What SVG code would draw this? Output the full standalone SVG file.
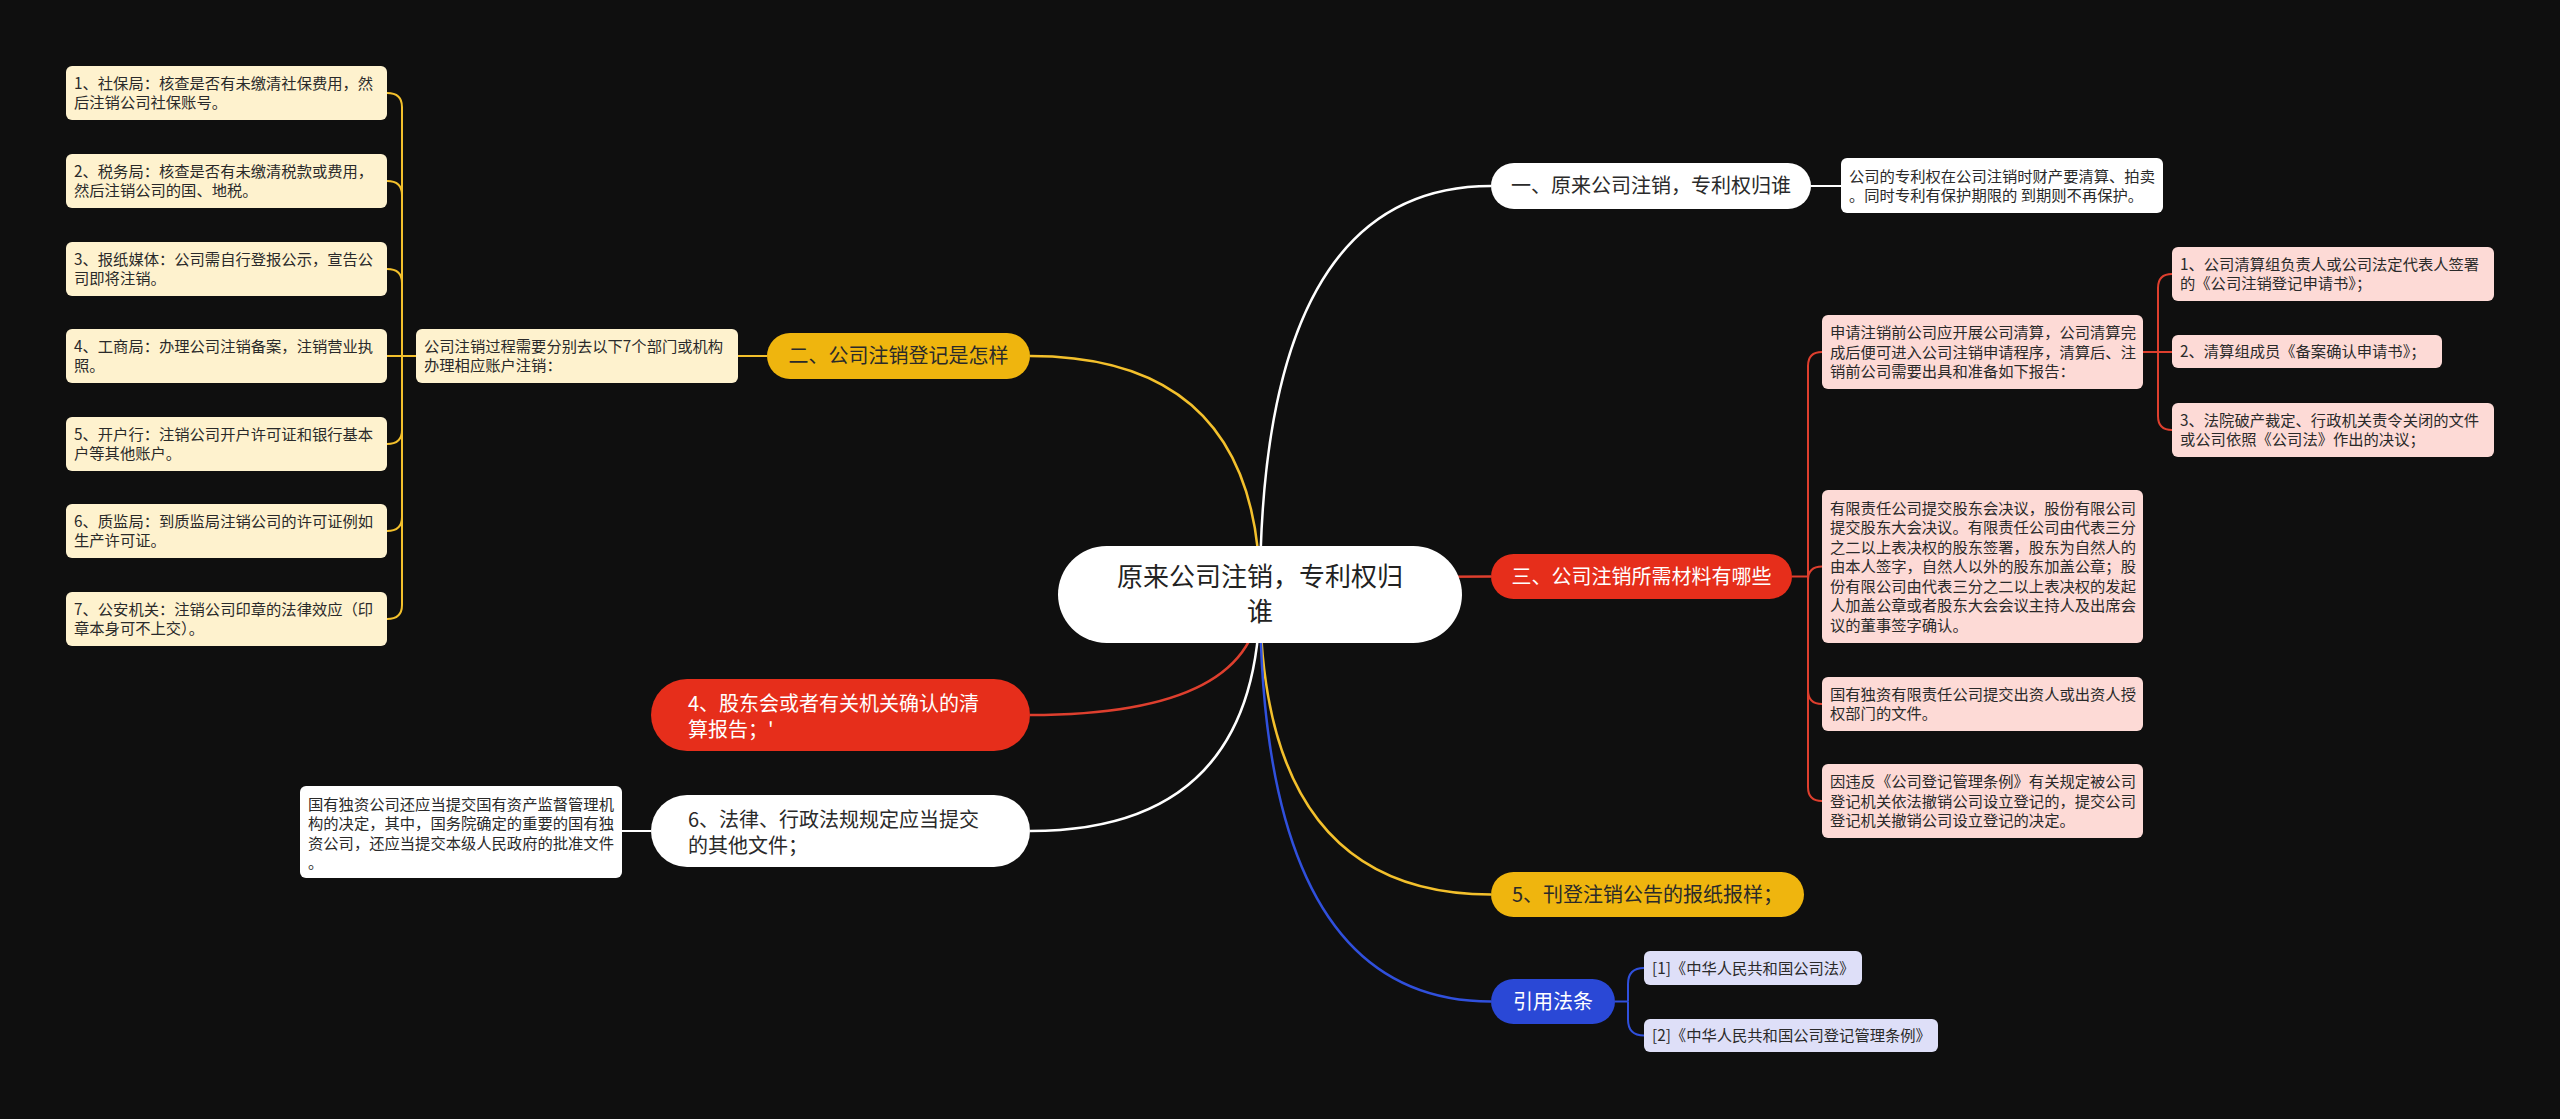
<svg xmlns="http://www.w3.org/2000/svg" width="2560" height="1119" viewBox="0 0 2560 1119">
<style>
text{font-family:"Noto Sans CJK SC","Noto Sans",sans-serif;}
.t{font-size:15.3px;fill:#2a2a2a;}
.l1{font-size:20px;}
.root{font-size:26px;fill:#222;}
.cream{fill:#FEF2CE;}
.pink{fill:#FDDAD6;}
.lav{fill:#DEDFF8;}
.wbox{fill:#FFFFFF;}
.cw{fill:none;stroke:#FFFFFF;stroke-width:2.5;}
.cy{fill:none;stroke:#F3C02C;stroke-width:2.5;}
.cr{fill:none;stroke:#DE3F2E;stroke-width:2.5;}
.cb{fill:none;stroke:#3050DC;stroke-width:2.5;}
.sy{fill:none;stroke:#F3C02C;stroke-width:2;}
.sr{fill:none;stroke:#DE3F2E;stroke-width:2;}
.sb{fill:none;stroke:#3050DC;stroke-width:2;}
.sw{fill:none;stroke:#FFFFFF;stroke-width:2;}
</style>
<rect x="0" y="0" width="2560" height="1119" fill="#0F0F0F"/>

<g id="connectors">
  <path class="cw" d="M1260 594 Q1260 186 1491 186"/>
  <path class="cy" d="M1260 594 Q1260 356 1030 356"/>
  <path class="cr" d="M1260 594 Q1260 576.5 1491 576.5"/>
  <path class="cr" d="M1260 594 Q1260 715 1030 715"/>
  <path class="cw" d="M1260 594 Q1260 831 1030 831"/>
  <path class="cy" d="M1260 594 Q1260 894.5 1491 894.5"/>
  <path class="cb" d="M1260 594 Q1260 1001.5 1491 1001.5"/>
  <!-- 二 branch -->
  <path class="sy" d="M767 356 H738"/>
  <path class="sy" d="M416 356 H387"/>
  <path class="sy" d="M402 356 V107 Q402 93 387 93"/>
  <path class="sy" d="M402 195 Q402 181 387 181"/>
  <path class="sy" d="M402 283 Q402 269 387 269"/>
  <path class="sy" d="M402 356 V605 Q402 619 387 619"/>
  <path class="sy" d="M402 430 Q402 444 387 444"/>
  <path class="sy" d="M402 517 Q402 531 387 531"/>
  <!-- 一 branch -->
  <path class="sw" d="M1811 186 H1841"/>
  <!-- 三 branch -->
  <path class="sr" d="M1792 576.5 H1808"/>
  <path class="sr" d="M1808 576.5 V366 Q1808 352 1822 352"/>
  <path class="sr" d="M1808 580 Q1808 566.5 1822 566.5"/>
  <path class="sr" d="M1808 576.5 V787 Q1808 801 1822 801"/>
  <path class="sr" d="M1808 690 Q1808 704 1822 704"/>
  <path class="sr" d="M2143 352 H2172"/>
  <path class="sr" d="M2158 352 V288 Q2158 274 2172 274"/>
  <path class="sr" d="M2158 352 V416 Q2158 430 2172 430"/>
  <!-- 6 branch -->
  <path class="sw" d="M651 831 H622"/>
  <!-- 引用法条 branch -->
  <path class="sb" d="M1615 1001.5 H1628"/>
  <path class="sb" d="M1628 1001.5 V984 Q1628 968 1644 968"/>
  <path class="sb" d="M1628 1001.5 V1019.5 Q1628 1035.5 1644 1035.5"/>
</g>

<g id="root">
  <rect x="1058" y="546" width="404" height="97" rx="48.5" fill="#FFFFFF"/>
  <text class="root" x="1260" y="586.4" text-anchor="middle">原来公司注销，专利权归</text>
  <text class="root" x="1260" y="621.4" text-anchor="middle">谁</text>
</g>

<g id="n-yi">
  <rect x="1491" y="163" width="320" height="46" rx="23" fill="#FFFFFF"/>
  <text class="l1" x="1651" y="193.2" text-anchor="middle" fill="#2a2a2a">一、原来公司注销，专利权归谁</text>
</g>
<g id="n-yi-1">
  <rect class="wbox" x="1841" y="158" width="322" height="55" rx="6"/>
  <text class="t" x="1849" y="181.5">公司的专利权在公司注销时财产要清算、拍卖</text>
  <text class="t" x="1849" y="201">。同时专利有保护期限的 到期则不再保护。</text>
</g>

<g id="n-er">
  <rect x="767" y="333" width="263" height="46" rx="23" fill="#EFB50E"/>
  <text class="l1" x="898.5" y="363.2" text-anchor="middle" fill="#2a2a2a">二、公司注销登记是怎样</text>
</g>
<g id="n-er-1">
  <rect class="cream" x="416" y="329" width="322" height="54" rx="6"/>
  <text class="t" x="424" y="351.75">公司注销过程需要分别去以下7个部门或机构</text>
  <text class="t" x="424" y="371.25">办理相应账户注销：</text>
</g>
<g id="n-er-1-1">
  <rect class="cream" x="66" y="66" width="321" height="54" rx="6"/>
  <text class="t" x="74" y="88.75">1、社保局：核查是否有未缴清社保费用，然</text>
  <text class="t" x="74" y="108.25">后注销公司社保账号。</text>
</g>
<g id="n-er-1-2">
  <rect class="cream" x="66" y="154" width="321" height="54" rx="6"/>
  <text class="t" x="74" y="176.75">2、税务局：核查是否有未缴清税款或费用，</text>
  <text class="t" x="74" y="196.25">然后注销公司的国、地税。</text>
</g>
<g id="n-er-1-3">
  <rect class="cream" x="66" y="242" width="321" height="54" rx="6"/>
  <text class="t" x="74" y="264.75">3、报纸媒体：公司需自行登报公示，宣告公</text>
  <text class="t" x="74" y="284.25">司即将注销。</text>
</g>
<g id="n-er-1-4">
  <rect class="cream" x="66" y="329" width="321" height="54" rx="6"/>
  <text class="t" x="74" y="351.75">4、工商局：办理公司注销备案，注销营业执</text>
  <text class="t" x="74" y="371.25">照。</text>
</g>
<g id="n-er-1-5">
  <rect class="cream" x="66" y="417" width="321" height="54" rx="6"/>
  <text class="t" x="74" y="439.75">5、开户行：注销公司开户许可证和银行基本</text>
  <text class="t" x="74" y="459.25">户等其他账户。</text>
</g>
<g id="n-er-1-6">
  <rect class="cream" x="66" y="504" width="321" height="54" rx="6"/>
  <text class="t" x="74" y="526.75">6、质监局：到质监局注销公司的许可证例如</text>
  <text class="t" x="74" y="546.25">生产许可证。</text>
</g>
<g id="n-er-1-7">
  <rect class="cream" x="66" y="592" width="321" height="54" rx="6"/>
  <text class="t" x="74" y="614.75">7、公安机关：注销公司印章的法律效应（印</text>
  <text class="t" x="74" y="634.25">章本身可不上交）。</text>
</g>

<g id="n-san">
  <rect x="1491" y="554" width="301" height="45" rx="22.5" fill="#E62E1B"/>
  <text class="l1" x="1641.5" y="583.7" text-anchor="middle" fill="#FFFFFF">三、公司注销所需材料有哪些</text>
</g>
<g id="n-san-1">
  <rect class="pink" x="1822" y="315" width="321" height="74" rx="6"/>
  <text class="t" x="1830" y="338">申请注销前公司应开展公司清算，公司清算完</text>
  <text class="t" x="1830" y="357.5">成后便可进入公司注销申请程序，清算后、注</text>
  <text class="t" x="1830" y="377">销前公司需要出具和准备如下报告：</text>
</g>
<g id="n-san-1-1">
  <rect class="pink" x="2172" y="247" width="322" height="54" rx="6"/>
  <text class="t" x="2180" y="269.75">1、公司清算组负责人或公司法定代表人签署</text>
  <text class="t" x="2180" y="289.25">的《公司注销登记申请书》；</text>
</g>
<g id="n-san-1-2">
  <rect class="pink" x="2172" y="335" width="270" height="33" rx="6"/>
  <text class="t" x="2180" y="357">2、清算组成员《备案确认申请书》；</text>
</g>
<g id="n-san-1-3">
  <rect class="pink" x="2172" y="403" width="322" height="54" rx="6"/>
  <text class="t" x="2180" y="425.75">3、法院破产裁定、行政机关责令关闭的文件</text>
  <text class="t" x="2180" y="445.25">或公司依照《公司法》作出的决议；</text>
</g>
<g id="n-san-2">
  <rect class="pink" x="1822" y="490" width="321" height="153" rx="6"/>
  <text class="t" x="1830" y="513.5">有限责任公司提交股东会决议，股份有限公司</text>
  <text class="t" x="1830" y="533">提交股东大会决议。有限责任公司由代表三分</text>
  <text class="t" x="1830" y="552.5">之二以上表决权的股东签署，股东为自然人的</text>
  <text class="t" x="1830" y="572">由本人签字，自然人以外的股东加盖公章；股</text>
  <text class="t" x="1830" y="591.5">份有限公司由代表三分之二以上表决权的发起</text>
  <text class="t" x="1830" y="611">人加盖公章或者股东大会会议主持人及出席会</text>
  <text class="t" x="1830" y="630.5">议的董事签字确认。</text>
</g>
<g id="n-san-3">
  <rect class="pink" x="1822" y="677" width="321" height="54" rx="6"/>
  <text class="t" x="1830" y="699.75">国有独资有限责任公司提交出资人或出资人授</text>
  <text class="t" x="1830" y="719.25">权部门的文件。</text>
</g>
<g id="n-san-4">
  <rect class="pink" x="1822" y="764" width="321" height="74" rx="6"/>
  <text class="t" x="1830" y="787">因违反《公司登记管理条例》有关规定被公司</text>
  <text class="t" x="1830" y="806.5">登记机关依法撤销公司设立登记的，提交公司</text>
  <text class="t" x="1830" y="826">登记机关撤销公司设立登记的决定。</text>
</g>

<g id="n-si">
  <rect x="651" y="679" width="379" height="72" rx="36" fill="#E62E1B"/>
  <text class="l1" x="688" y="711.2" fill="#FFFFFF">4、股东会或者有关机关确认的清</text>
  <text class="l1" x="688" y="737.2" fill="#FFFFFF">算报告；'</text>
</g>

<g id="n-liu">
  <rect x="651" y="795" width="379" height="72" rx="36" fill="#FFFFFF"/>
  <text class="l1" x="688" y="827.2" fill="#2a2a2a">6、法律、行政法规规定应当提交</text>
  <text class="l1" x="688" y="853.2" fill="#2a2a2a">的其他文件；</text>
</g>
<g id="n-liu-1">
  <rect class="wbox" x="300" y="786" width="322" height="92" rx="6"/>
  <text class="t" x="308" y="809.5">国有独资公司还应当提交国有资产监督管理机</text>
  <text class="t" x="308" y="829">构的决定，其中，国务院确定的重要的国有独</text>
  <text class="t" x="308" y="848.5">资公司，还应当提交本级人民政府的批准文件</text>
  <text class="t" x="308" y="868">。</text>
</g>

<g id="n-wu">
  <rect x="1491" y="872" width="313" height="45" rx="22.5" fill="#EFB50E"/>
  <text class="l1" x="1647.5" y="901.7" text-anchor="middle" fill="#2a2a2a">5、刊登注销公告的报纸报样；</text>
</g>

<g id="n-ref">
  <rect x="1491" y="979" width="124" height="45" rx="22.5" fill="#2A48D6"/>
  <text class="l1" x="1553" y="1008.7" text-anchor="middle" fill="#FFFFFF">引用法条</text>
</g>
<g id="n-ref-1">
  <rect class="lav" x="1644" y="951" width="218" height="34" rx="6"/>
  <text class="t" x="1652" y="973.5">[1]《中华人民共和国公司法》</text>
</g>
<g id="n-ref-2">
  <rect class="lav" x="1644" y="1019" width="294" height="33" rx="6"/>
  <text class="t" x="1652" y="1041">[2]《中华人民共和国公司登记管理条例》</text>
</g>
</svg>
